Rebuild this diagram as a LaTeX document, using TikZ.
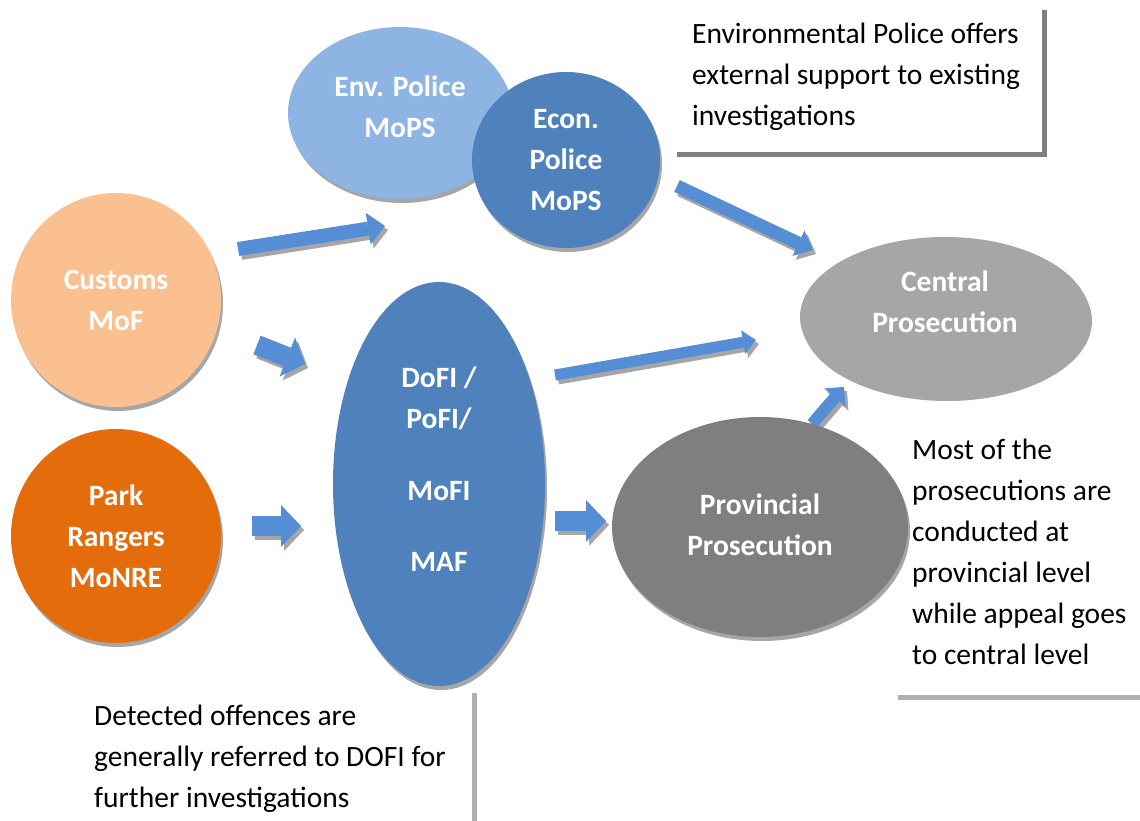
\documentclass[tikz,border=0pt]{standalone}
\usepackage{fontspec}
\setmainfont{Carlito}
\usetikzlibrary{shapes.geometric,arrows.meta,shadows}
\definecolor{envblue}{HTML}{8EB4E3}
\definecolor{econblue}{HTML}{4F81BD}
\definecolor{customsorange}{HTML}{FAC090}
\definecolor{parkorange}{HTML}{E46C0A}
\definecolor{centralgray}{HTML}{A6A6A6}
\definecolor{provgray}{HTML}{7F7F7F}
\definecolor{arrowblue}{HTML}{558ED5}
\definecolor{shadowgray}{HTML}{A6A6A6}
\definecolor{darkrule}{HTML}{808080}
\definecolor{lightrule}{HTML}{B0B0B0}
\newcommand\blockarrow[5]{%
  \draw[shadowgray, line width=#3pt, -{Triangle[length=#4pt,width=#5pt,line width=0pt]}]
    ([shift={(3,4)}]#1) -- ([shift={(3,4)}]#2);
  \draw[arrowblue, line width=#3pt, -{Triangle[length=#4pt,width=#5pt,line width=0pt]}]
    (#1) -- (#2);}
\begin{document}
\begin{tikzpicture}[x=1pt,y=-1pt,
  agency/.style={ellipse, inner sep=0pt, text=white, align=center,
    font=\bfseries\fontsize{29.5}{41}\selectfont,
    drop shadow={shadow xshift=2pt, shadow yshift=-4pt, fill=shadowgray, opacity=1}},
  shapetext/.style={text=white, align=center, inner sep=0pt,
    font=\bfseries\fontsize{29.5}{41}\selectfont},
  bodytext/.style={font=\fontsize{29.5}{41}\selectfont, align=left, inner sep=0pt, anchor=west},
  darkline/.style={darkrule, line width=5pt},
  lightline/.style={lightrule, line width=5pt}]
\useasboundingbox (0,0) rectangle (1140,821);

% arrow end points
\coordinate (a1s) at (238,249); \coordinate (a1t) at (385,226);
\coordinate (a2s) at (257,345); \coordinate (a2t) at (305,364);
\coordinate (a3s) at (252,526); \coordinate (a3t) at (301,526);
\coordinate (a4s) at (555,375); \coordinate (a4t) at (756,340);
\coordinate (a5s) at (555,521); \coordinate (a5t) at (606,521);
\coordinate (a6s) at (677,186); \coordinate (a6t) at (813,250);
\coordinate (a7s) at (812,424); \coordinate (a7t) at (844,387);

\blockarrow{a1s}{a1t}{14}{17}{32}
\blockarrow{a2s}{a2t}{20}{19}{42}
\blockarrow{a3s}{a3t}{20}{20}{42}
\blockarrow{a4s}{a4t}{11}{13}{24}
\blockarrow{a5s}{a5t}{20}{20}{42}
\blockarrow{a6s}{a6t}{13}{16}{28}
\blockarrow{a7s}{a7t}{12}{14}{28}

% agencies
\node[agency, fill=envblue, minimum width=224pt, minimum height=172pt] (env) at (400,113) {};
\node[shapetext] (envtext) at (400,107) {Env. Police\\MoPS};
\node[agency, fill=econblue, minimum width=188pt, minimum height=176pt] (econ) at (566,160) {Econ.\\Police\\MoPS};
\node[agency, fill=customsorange, minimum width=210pt, minimum height=214pt] (customs) at (116,300) {Customs\\MoF};
\node[agency, fill=parkorange, minimum width=210pt, minimum height=214pt] (park) at (116,536) {Park\\Rangers\\MoNRE};
\node[agency, fill=econblue, minimum width=212pt, minimum height=404pt] (dofi) at (439,484) {};
\node[shapetext] (dofitext) at (439,469) {DoFI /\\PoFI/\\[31pt]MoFI\\[30pt]MAF};
\node[agency, fill=centralgray, minimum width=290pt, minimum height=160pt] (central) at (945,317) {};
\node[shapetext] (centraltext) at (945,302) {Central\\Prosecution};
\node[agency, fill=provgray, minimum width=296pt, minimum height=220pt] (prov) at (760,527) {};
\node[shapetext] (provtext) at (760,525) {Provincial\\Prosecution};

% notes
\node[bodytext] (note1) at (692,77) {Environmental Police offers\\external support to existing\\investigations};
\coordinate (r1a) at (1044,10); \coordinate (r1b) at (1044,155); \coordinate (r1c) at (677,155);
\draw[darkline] (r1a) -- (r1b) -- (r1c);

\node[bodytext] (note2) at (912,552) {Most of the\\prosecutions are\\conducted at\\provincial level\\while appeal goes\\to central level};
\coordinate (r2a) at (898,697); \coordinate (r2b) at (1140,697);
\draw[lightline] (r2a) -- (r2b);

\node[bodytext] (note3) at (94,759) {Detected offences are\\generally referred to DOFI for\\further investigations};
\coordinate (r3a) at (474,693); \coordinate (r3b) at (474,821);
\draw[lightline] (r3a) -- (r3b);
\end{tikzpicture}
\end{document}
